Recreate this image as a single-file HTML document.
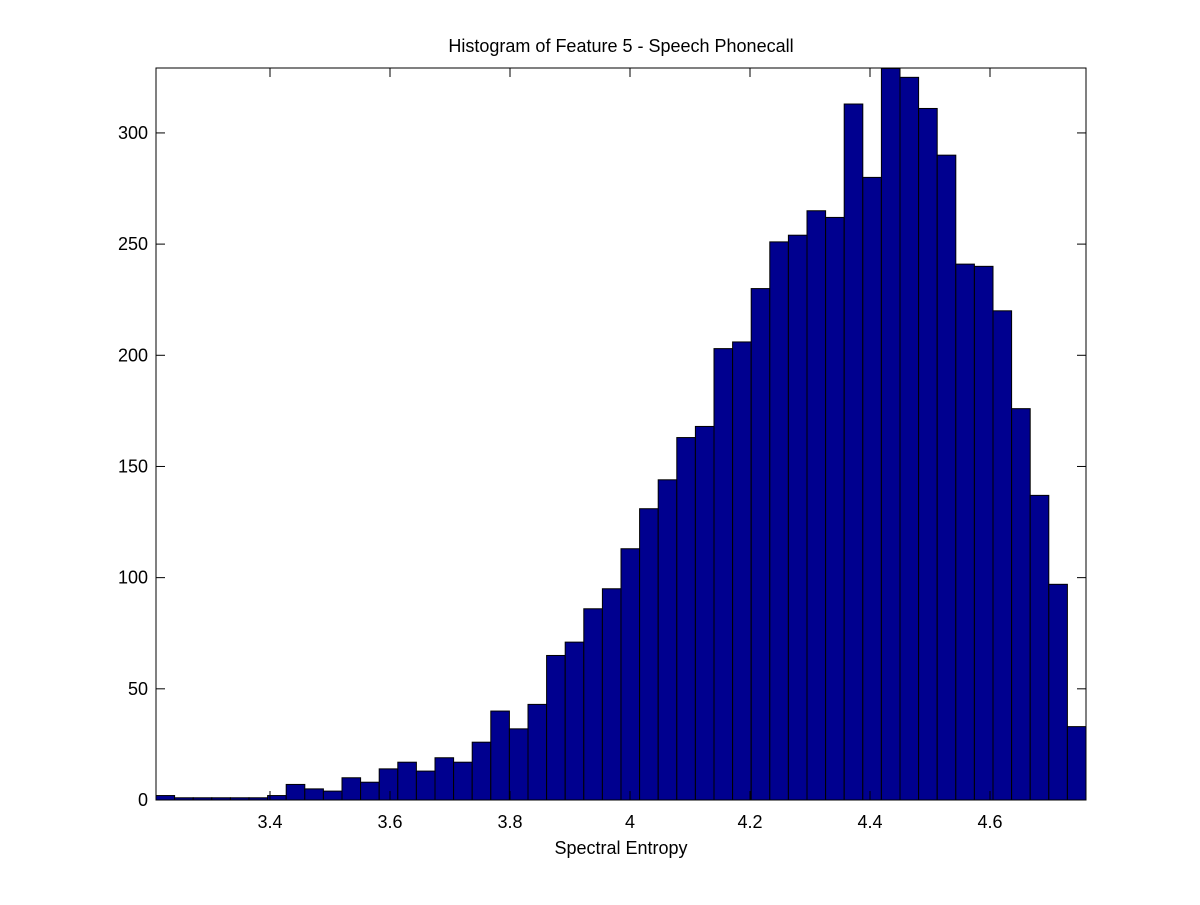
<!DOCTYPE html>
<html><head><meta charset="utf-8"><style>
body{margin:0;background:#fff;}
svg text{font-family:"Liberation Sans",sans-serif;font-size:18px;fill:#000;}
</style></head><body>
<svg id="chart" width="1200" height="900" xmlns="http://www.w3.org/2000/svg">
<rect width="1200" height="900" fill="#fff"/>
<text x="621" y="52" text-anchor="middle">Histogram of Feature 5 - Speech Phonecall</text>
<text x="621" y="854" text-anchor="middle">Spectral Entropy</text>
<g id="bars"></g>
<g id="axes"></g>
</svg>
<script>
const binStart = 3.21;
const binWidth = 0.031;
const counts = [2,1,1,1,1,1,2,7,5,4,10,8,14,17,13,19,17,26,40,32,43,65,71,86,95,113,131,144,163,168,203,206,230,251,254,265,262,313,280,329,325,311,290,241,240,220,176,137,97,33];
const xTicks = [3.4,3.6,3.8,4,4.2,4.4,4.6];
const xTickLabels = ["3.4","3.6","3.8","4","4.2","4.4","4.6"];
const yTicks = [0,50,100,150,200,250,300];
const yTickLabels = ["0","50","100","150","200","250","300"];

const L=156,R=1086,T=68,B=800;
const xMin=3.21,xMax=4.76,yMin=0,yMax=329.2;
const sx=v=>L+(v-xMin)/(xMax-xMin)*(R-L);
const sy=v=>B-(v-yMin)/(yMax-yMin)*(B-T);
const NS="http://www.w3.org/2000/svg";
const bars=document.getElementById('bars');
counts.forEach((c,i)=>{
  const x0=sx(binStart+i*binWidth), x1=sx(binStart+(i+1)*binWidth);
  const r=document.createElementNS(NS,'rect');
  r.setAttribute('x',x0);r.setAttribute('y',sy(c));
  r.setAttribute('width',x1-x0);r.setAttribute('height',sy(0)-sy(c));
  r.setAttribute('fill','#00008f');r.setAttribute('stroke','#000');r.setAttribute('stroke-width','1');
  
  
  bars.appendChild(r);
});
const axes=document.getElementById('axes');
function line(x1,y1,x2,y2){const l=document.createElementNS(NS,'line');l.setAttribute('x1',x1);l.setAttribute('y1',y1);l.setAttribute('x2',x2);l.setAttribute('y2',y2);l.setAttribute('stroke','#000');l.setAttribute('stroke-width','1');axes.appendChild(l);return l;}
const frame=document.createElementNS(NS,'rect');
frame.setAttribute('x',L);frame.setAttribute('y',T);frame.setAttribute('width',R-L);frame.setAttribute('height',B-T);
frame.setAttribute('fill','none');frame.setAttribute('stroke','#000');


axes.appendChild(frame);
xTicks.forEach((v,i)=>{
  const x=sx(v);line(x,B,x,B-9);line(x,T,x,T+9);
  const t=document.createElementNS(NS,'text');t.setAttribute('x',x);t.setAttribute('y',B+28);t.setAttribute('text-anchor','middle');t.textContent=xTickLabels[i];
  
  
  axes.appendChild(t);
});
yTicks.forEach((v,i)=>{
  const y=sy(v);line(L,y,L+9,y);line(R,y,R-9,y);
  const t=document.createElementNS(NS,'text');t.setAttribute('x',L-8);t.setAttribute('y',y+6);t.setAttribute('text-anchor','end');t.textContent=yTickLabels[i];
  
  
  axes.appendChild(t);
});
</script>
</body></html>
